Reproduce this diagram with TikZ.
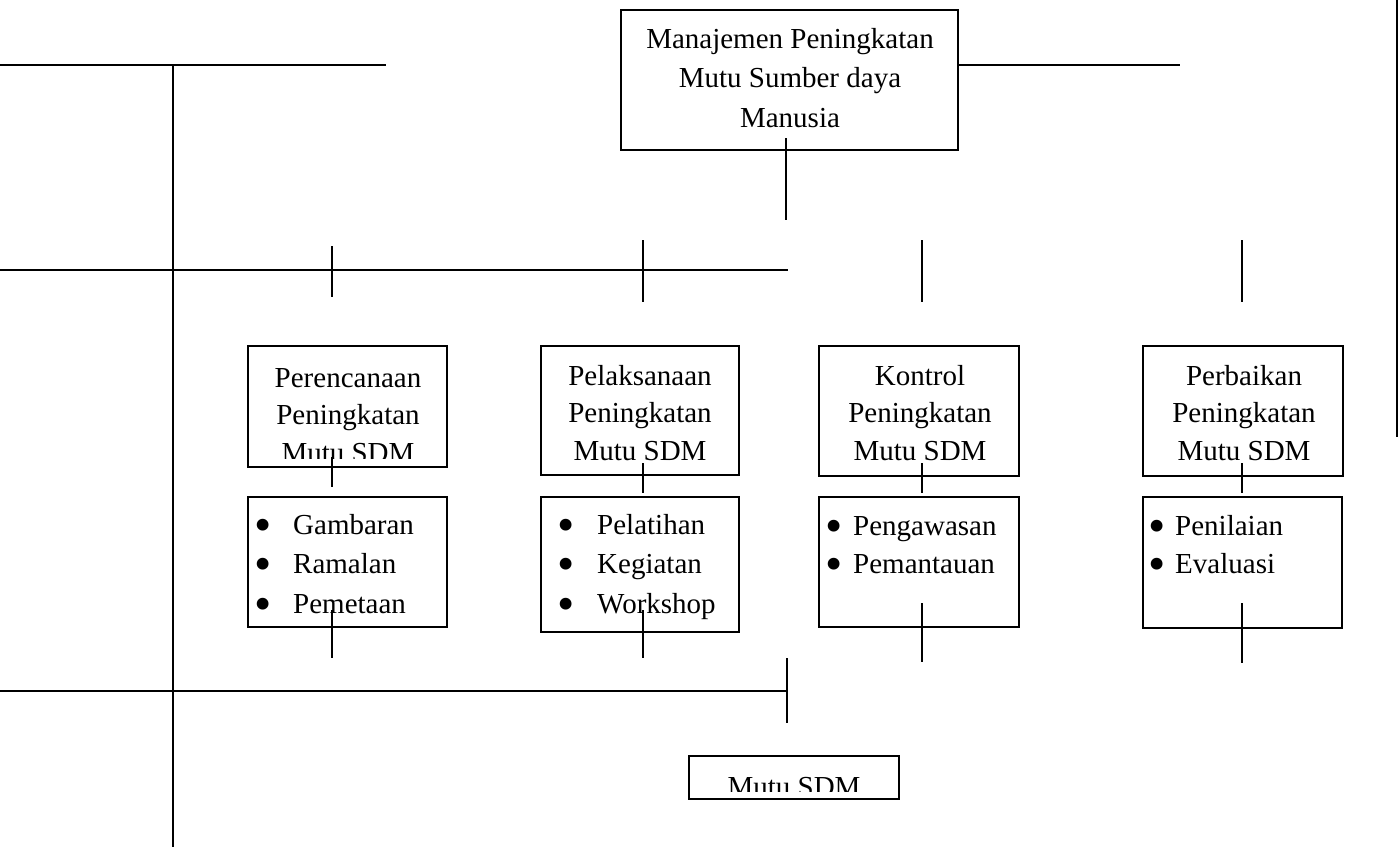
\documentclass[tikz,border=0pt]{standalone}
\usepackage{fontspec}
\setmainfont{Liberation Serif}
\usetikzlibrary{calc}
\newcommand{\titik}[1]{\makebox[#1][l]{\raisebox{-7pt}[0pt][0pt]{\scalebox{1.7}{\textbullet}}}}

\begin{document}
\begin{tikzpicture}[x=1pt,y=-1pt]
    \tikzstyle{kotak}=[rectangle,draw,line width=2pt,inner sep=0pt]
    \tikzstyle{judul}=[align=center,inner sep=0pt,anchor=base,font=\fontsize{29}{37.5}\selectfont]
    \tikzstyle{daftar}=[align=left,inner sep=0pt,anchor=base west,font=\fontsize{29}{39.5}\selectfont]
    \tikzstyle{garis}=[line width=2pt]
    \useasboundingbox (0,0) rectangle (1399,847);

    % kotak utama (anchor base = baris terakhir)
    \node[kotak, minimum width=337, minimum height=140] (mpsdm) at (789.5,80) {};
    \node[judul, font=\fontsize{29}{39.5}\selectfont] (tmpsdm) at (790,127) {Manajemen Peningkatan\\Mutu Sumber daya\\Manusia};

    % kotak tahap
    \node[kotak, minimum width=199, minimum height=121] (rencana) at (347.5,406.5) {};
    \node[kotak, minimum width=198, minimum height=129] (laksana) at (640,410.5) {};
    \node[kotak, minimum width=200, minimum height=130] (kontrol) at (919,411) {};
    \node[kotak, minimum width=200, minimum height=130] (perbaik) at (1243,411) {};

    \begin{scope}
        \clip (rencana.north west) rectangle ($(rencana.south east)+(0,-10)$);
        \node[judul] (trencana) at (348,462) {Perencanaan\\Peningkatan\\Mutu SDM};
    \end{scope}
    \node[judul] (tlaksana) at (640,460) {Pelaksanaan\\Peningkatan\\Mutu SDM};
    \node[judul] (tkontrol) at (920,460) {Kontrol\\Peningkatan\\Mutu SDM};
    \node[judul] (tperbaik) at (1244,460) {Perbaikan\\Peningkatan\\Mutu SDM};

    % kotak rincian
    \node[kotak, minimum width=199, minimum height=130] (lrencana) at (347.5,562) {};
    \node[kotak, minimum width=198, minimum height=135] (llaksana) at (640,564.5) {};
    \node[kotak, minimum width=200, minimum height=130] (lkontrol) at (919,562) {};
    \node[kotak, minimum width=199, minimum height=131] (lperbaik) at (1242.5,562.5) {};

    \node[daftar] (drencana) at (254,613) {\titik{39pt}Gambaran\\\titik{39pt}Ramalan\\\titik{39pt}Pemetaan};
    \node[daftar] (dlaksana) at (557,613) {\titik{40pt}Pelatihan\\\titik{40pt}Kegiatan\\\titik{40pt}Workshop};
    \node[daftar, font=\fontsize{29}{38.5}\selectfont] (dkontrol) at (825,573.5) {\titik{28pt}Pengawasan\\\titik{28pt}Pemantauan};
    \node[daftar, font=\fontsize{29}{38.5}\selectfont] (dperbaik) at (1148,573.5) {\titik{27pt}Penilaian\\\titik{27pt}Evaluasi};

    % kotak hasil
    \node[kotak, minimum width=210, minimum height=43] (hasil) at (794,777.5) {};
    \begin{scope}
        \clip (hasil.north west) rectangle ($(hasil.south east)+(0,-9)$);
        \node[judul] (thasil) at (794,796) {Mutu SDM};
    \end{scope}

    % garis kiri
    \draw[garis] (0,65) -- (386,65)
                 (173,65) -- (173,847)
                 (0,270) -- (788,270)
                 (0,691) -- (787,691)
                 (787,658) -- (787,723);

    % garis atas dan kanan
    \draw[garis] (958,65) -- (1180,65)
                 (786,138) -- (786,220)
                 (1397,0) -- (1397,437);

    % garis tegak
    \foreach \x/\a/\b/\c/\d/\e/\f in {332/246/297/457/487/610/658,
                                      643/240/302/463/493/610/658,
                                      922/240/302/463/493/603/662,
                                      1242/240/302/463/493/603/663}
    {
        \draw[garis] (\x,\a) -- (\x,\b)
                     (\x,\c) -- (\x,\d)
                     (\x,\e) -- (\x,\f);
    }

\end{tikzpicture}
\end{document}
